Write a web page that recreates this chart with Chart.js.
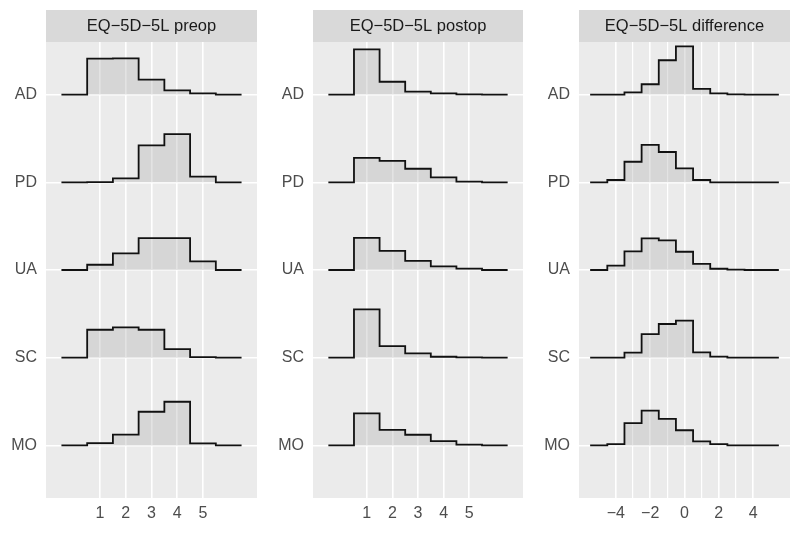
<!DOCTYPE html>
<html>
<head>
<meta charset="utf-8">
<script src="https://cdn.jsdelivr.net/npm/chart.js@4.4.1/dist/chart.umd.min.js"></script>
<style>
  html, body { margin: 0; padding: 0; background: #ffffff; }
  #wrap { position: relative; width: 800px; height: 533px; }
  .panel { position: absolute; top: 0; height: 533px; }
</style>
</head>
<body>
<div id="wrap">
  <div class="panel" style="left:0px;width:265px"><canvas id="preop"></canvas></div>
  <div class="panel" style="left:265px;width:265px"><canvas id="postop"></canvas></div>
  <div class="panel" style="left:530px;width:270px"><canvas id="diff"></canvas></div>
</div>
<script>
// dimensions (top to bottom)
const items = ['AD', 'PD', 'UA', 'SC', 'MO'];

// x categories
const levels = [1, 2, 3, 4, 5];
const diffLevels = [-4, -3, -2, -1, 0, 1, 2, 3, 4];
const levelTicks = [1, 2, 3, 4, 5];
const diffTicks = [-4, -3, -2, -1, 0, 1, 2, 3, 4];

// % of patients per level, preop
const preopAD = [38.2, 38.5, 15.9, 4.6, 1.4];
const preopPD = [0.3, 4.2, 39.3, 51.3, 6.1];
const preopUA = [5.6, 17.7, 34.0, 34.0, 9.2];
const preopSC = [29.7, 32.2, 29.7, 9.2, 0.7];
const preopMO = [2.4, 11.4, 35.8, 46.4, 2.1];

// % of patients per level, postop
const postopAD = [70.4, 20.0, 4.6, 2.0, 0.5];
const postopPD = [38.1, 33.4, 21.1, 7.7, 1.1];
const postopUA = [49.8, 29.7, 14.3, 5.7, 2.0];
const postopSC = [75.0, 18.0, 6.6, 1.5, 0.5];
const postopMO = [49.8, 24.2, 16.5, 6.6, 1.1];

// % of patients per change (postop - preop)
const diffAD = [0, 2.2, 9.8, 32.4, 45.5, 5.4, 1.2, 0.3, 0];
const diffPD = [2.2, 19.4, 35.3, 28.6, 13.1, 2.2, 0, 0, 0];
const diffUA = [4.1, 17.5, 29.9, 28.0, 17.2, 5.7, 1.2, 0.3, 0];
const diffSC = [0, 4.8, 22.2, 31.8, 35.0, 5.1, 1.0, 0, 0];
const diffMO = [1.2, 21.0, 32.7, 25.1, 14.3, 3.8, 1.2, 0, 0];

const FONT = '"Liberation Sans", Arial, Helvetica, sans-serif';
const RIDGE_HEIGHT = 0.55; // tallest ridge in a panel, in row units

// step outline with an empty bin on each side
function stepPoints(centers, pcts, base, scale) {
    const c = [centers[0] - 1, ...centers, centers[centers.length - 1] + 1];
    const h = [0, ...pcts, 0];
    const pts = [];
    for (let i = 0; i < c.length; i++) {
        pts.push({ x: c[i] - 0.5, y: base + h[i] * scale });
    }
    pts.push({ x: c[c.length - 1] + 0.5, y: base });
    return pts;
}

const stripPlugin = {
    id: 'strip',
    beforeDraw(chart, args, opts) {
        const { ctx, chartArea: a } = chart;
        ctx.save();
        ctx.fillStyle = '#EBEBEB';
        ctx.fillRect(a.left, a.top, a.right - a.left, a.bottom - a.top);
        ctx.fillStyle = '#D9D9D9';
        ctx.fillRect(a.left, 10, a.right - a.left, a.top - 10);
        ctx.fillStyle = '#1A1A1A';
        ctx.font = '16.5px ' + FONT;
        ctx.textAlign = 'center';
        ctx.textBaseline = 'middle';
        ctx.fillText(opts.text, (a.left + a.right) / 2, 26.5);
        ctx.restore();
    }
};

function makePanel(id, title, centers, series, ticks, xmin, xmax, yWidth, padRight, labelEvery) {
    let maxPct = 0;
    series.forEach(s => s.forEach(v => { if (v > maxPct) maxPct = v; }));
    const scale = RIDGE_HEIGHT / maxPct;

    const datasets = series.map((s, i) => {
        const base = items.length - i;
        return {
            data: stepPoints(centers, s, base, scale),
            stepped: 'before',
            borderColor: '#111111',
            borderWidth: 1.8,
            backgroundColor: 'rgba(175,175,175,0.35)',
            fill: { value: base },
            pointRadius: 0,
            tension: 0
        };
    });

    new Chart(document.getElementById(id), {
        type: 'line',
        data: { datasets: datasets },
        plugins: [stripPlugin],
        options: {
            responsive: true,
            maintainAspectRatio: false,
            animation: false,
            layout: { padding: { top: 42, right: padRight, left: 0, bottom: 0 } },
            plugins: {
                legend: { display: false },
                tooltip: { enabled: false },
                strip: { text: title }
            },
            scales: {
                x: {
                    type: 'linear',
                    min: xmin,
                    max: xmax,
                    afterBuildTicks: axis => { axis.ticks = ticks.map(v => ({ value: v })); },
                    afterFit: axis => { axis.height = 35; },
                    border: { display: false },
                    grid: {
                        color: '#FFFFFF',
                        lineWidth: c => (c.tick && c.tick.value % labelEvery === 0 ? 1.6 : 1.2),
                        drawTicks: false
                    },
                    ticks: {
                        color: '#4D4D4D',
                        font: { size: 16, family: FONT },
                        padding: 6,
                        maxRotation: 0,
                        autoSkip: false,
                        callback: v => (v % labelEvery === 0 ? String(v).replace('-', '\u2212') : '')
                    }
                },
                y: {
                    type: 'linear',
                    min: 0.4,
                    max: 5.6,
                    afterBuildTicks: axis => { axis.ticks = [1, 2, 3, 4, 5].map(v => ({ value: v })); },
                    afterFit: axis => { axis.width = yWidth; },
                    border: { display: false },
                    grid: { color: '#FFFFFF', lineWidth: 1.6, drawTicks: false },
                    ticks: {
                        color: '#4D4D4D',
                        font: { size: 16, family: FONT },
                        padding: 9,
                        callback: v => items[items.length - v]
                    }
                }
            }
        }
    });
}

makePanel('preop', 'EQ\u22125D\u22125L preop', levels,
    [preopAD, preopPD, preopUA, preopSC, preopMO], levelTicks, -1.1, 7.1, 46, 8, 1);
makePanel('postop', 'EQ\u22125D\u22125L postop', levels,
    [postopAD, postopPD, postopUA, postopSC, postopMO], levelTicks, -1.1, 7.1, 48, 7, 1);
makePanel('diff', 'EQ\u22125D\u22125L difference', diffLevels,
    [diffAD, diffPD, diffUA, diffSC, diffMO], diffTicks, -6.15, 6.15, 49, 10, 2);
</script>
</body>
</html>
